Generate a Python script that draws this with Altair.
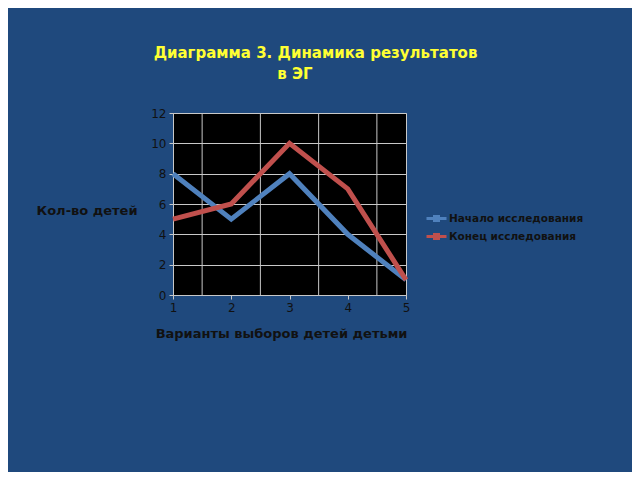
import altair as alt
import pandas as pd

variants = [1, 2, 3, 4, 5]
start_vals = [8, 5, 8, 4, 1]
end_vals = [5, 6, 10, 7, 1]
series_names = ["Начало исследования", "Конец исследования"]
boundaries = [1.5, 2.5, 3.5, 4.5]
title_line1 = "Диаграмма 3. Динамика результатов"
title_line2 = ["в ЭГ"]

rows = []
for v, s, e in zip(variants, start_vals, end_vals):
    rows.append({"x": v, "y": s, "series": series_names[0]})
    rows.append({"x": v, "y": e, "series": series_names[1]})
df = pd.DataFrame(rows)
bdf = pd.DataFrame({"b": boundaries})
tdf = pd.DataFrame({"t": title_line2})

FONT = "DejaVu Sans"
DARK = "#111111"
GRID = "#C8C8C8"
YELLOW = "#FFFF33"

xscale = alt.Scale(domain=[1, 5], nice=False, zero=False)

vgrid = alt.Chart(bdf).mark_rule(color=GRID, strokeWidth=1).encode(
    x=alt.X("b:Q", scale=xscale)
)

lines = alt.Chart(df).mark_line(strokeWidth=5, strokeJoin="miter", strokeCap="butt").encode(
    x=alt.X(
        "x:Q",
        scale=xscale,
        axis=alt.Axis(
            values=variants,
            format="d",
            grid=False,
            labelFlush=False,
            title="Варианты выборов детей детьми",
            titleX=108,
            titleY=38,
            titleBaseline="middle",
            titleAlign="center",
            labelPadding=3,
        ),
    ),
    y=alt.Y(
        "y:Q",
        scale=alt.Scale(domain=[0, 12], nice=False),
        axis=alt.Axis(
            values=[0, 2, 4, 6, 8, 10, 12],
            grid=True,
            gridColor=GRID,
            labelFlush=False,
            title="Кол-во детей",
            titleAngle=0,
            titleAlign="right",
            titleBaseline="middle",
            titleX=-36,
            titleY=97,
            labelPadding=3,
        ),
    ),
    color=alt.Color(
        "series:N",
        scale=alt.Scale(domain=series_names, range=["#4F81BD", "#C0504D"]),
        legend=alt.Legend(
            title=None,
            orient="none",
            legendX=257,
            legendY=99,
            symbolType="M-2,0H2M-0.4,-0.4H0.4V0.4H-0.4Z",
            symbolSize=100,
            symbolStrokeWidth=3,
            labelOffset=6,
            rowPadding=1,
            padding=0,
            labelFont=FONT,
            labelFontSize=10.5,
            labelFontWeight="bold",
            labelColor=DARK,
            labelLimit=300,
        ),
    ),
    order=alt.value(0),
)

line2 = alt.Chart(tdf).mark_text(
    font=FONT, fontSize=15, fontWeight="bold", color=YELLOW,
    align="center", baseline="alphabetic",
).encode(
    text="t:N",
    x=alt.value(122),
    y=alt.value(-34),
)

chart = alt.layer(vgrid, lines, line2).properties(
    width=233,
    height=182,
    autosize=alt.AutoSizeParams(type="none"),
    padding={"left": 165, "top": 105, "right": 226, "bottom": 177},
    background="#1F497D",
    title=alt.TitleParams(
        text=title_line1,
        font=FONT,
        fontSize=15,
        fontWeight="bold",
        color=YELLOW,
        anchor="middle",
        dx=26,
        offset=6,
    ),
).configure_view(
    fill="#000000", stroke=GRID, strokeWidth=1
).configure_axis(
    labelFont=FONT,
    labelFontSize=12,
    labelColor=DARK,
    titleFont=FONT,
    titleFontSize=13,
    titleFontWeight="bold",
    titleColor=DARK,
    domainColor=GRID,
    tickColor=GRID,
    tickSize=4,
)

chart.save("out.html", embed_options={"renderer": "svg", "actions": False})
